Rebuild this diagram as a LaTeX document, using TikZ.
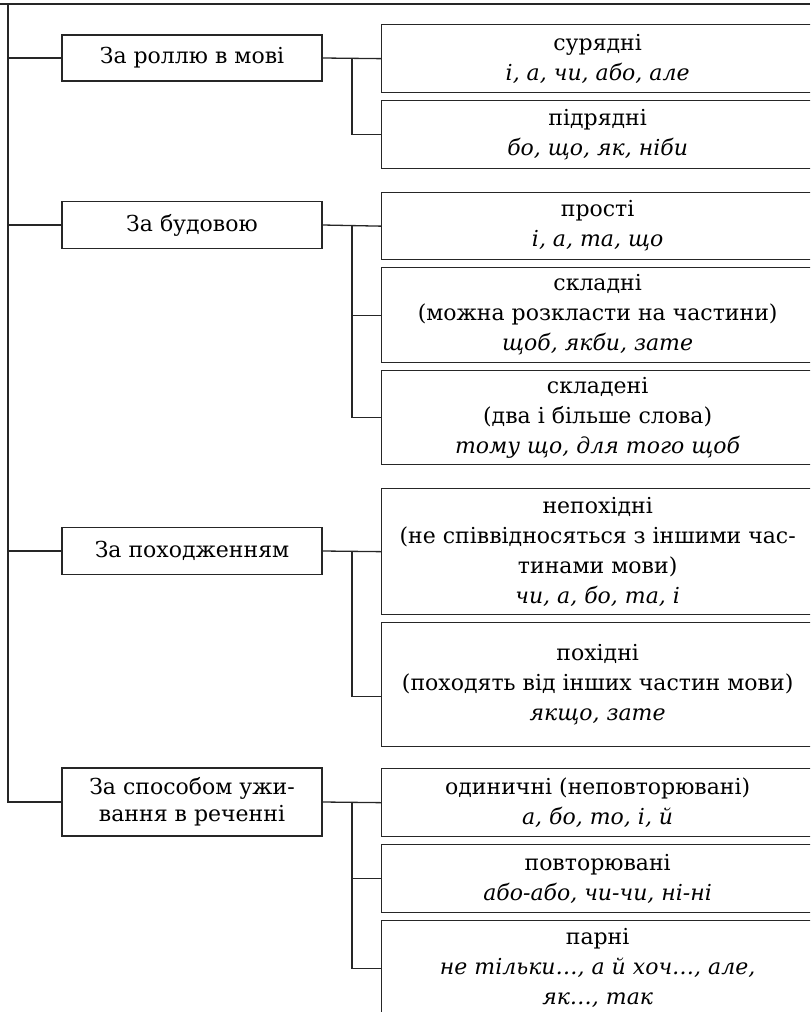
\documentclass[tikz,border=0pt]{standalone}
\usepackage{fontspec}
\setmainfont{DejaVu Serif}
\usetikzlibrary{calc}

\tikzset{
  link/.style={draw=black!85, line width=0.65pt},
  group/.style={link, fill=white, minimum width=130pt, inner sep=2pt,
                align=center, font=\fontsize{11}{13.5}\selectfont},
  kind/.style={link, fill=white, anchor=north west, minimum width=216pt,
               inner sep=2pt, align=center, font=\fontsize{11}{15}\selectfont}
}

\begin{document}
\begin{tikzpicture}[x=0.5pt,y=-0.5pt]
    \useasboundingbox (0,0) rectangle (810,1012);
    \clip (0,0) rectangle (810,1012);

    % left column
    \node[group, minimum height=23pt]   (g1) at (192,58)  {За роллю в мові};
    \node[group, minimum height=23.5pt] (g2) at (192,225) {За будовою};
    \node[group, minimum height=23.5pt] (g3) at (192,551) {За походженням};
    \node[group, minimum height=34pt]   (g4) at (192,802) {За способом ужи-\\вання в реченні};

    % right column
    \node[kind, minimum height=34pt]   (c11) at (381,24)  {сурядні\\\textit{і, а, чи, або, але}};
    \node[kind, minimum height=34pt]   (c12) at (381,100) {підрядні\\\textit{бо, що, як, ніби}};
    \node[kind, minimum height=33.5pt] (c21) at (381,192) {прості\\\textit{і, а, та, що}};
    \node[kind, minimum height=47.5pt] (c22) at (381,267) {складні\\(можна розкласти на частини)\\\textit{щоб, якби, зате}};
    \node[kind, minimum height=47pt]   (c23) at (381,370) {складені\\(два і більше слова)\\\textit{тому що, для того щоб}};
    \node[kind, minimum height=63pt]   (c31) at (381,488) {непохідні\\(не співвідносяться з іншими час-\\тинами мови)\\\textit{чи, а, бо, та, і}};
    \node[kind, minimum height=62pt]   (c32) at (381,622) {похідні\\(походять від інших частин мови)\\\textit{якщо, зате}};
    \node[kind, minimum height=34pt]   (c41) at (381,768) {одиничні (неповторювані)\\\textit{а, бо, то, і, й}};
    \node[kind, minimum height=34pt]   (c42) at (381,844) {повторювані\\\textit{або-або, чи-чи, ні-ні}};
    \node[kind, minimum height=47.5pt] (c43) at (381,920) {парні\\\textit{не тільки…, а й хоч…, але,}\\\textit{як…, так}};

    % trunk
    \coordinate (tl) at (0,4);
    \coordinate (tr) at (810,4);
    \coordinate (trunk) at (8,4);
    \coordinate (j) at (352,0);
    \draw[link] (tl) -- (tr);
    \draw[link] (trunk) |- (g4.west);
    \foreach \g in {g1,g2,g3}
        \draw[link] (\g.west) -- (\g.west -| trunk);

    % branches
    \draw[link] (g1.east) -- (c11.west);
    \draw[link] (g1.east -| j) |- (c12.west);
    \draw[link] (g2.east) -- (c21.west);
    \draw[link] (g2.east -| j) |- (c22.west);
    \draw[link] (g2.east -| j) |- (c23.west);
    \draw[link] (g3.east) -- (c31.west);
    \draw[link] (g3.east -| j) |- ([yshift=-6pt]c32.west);
    \draw[link] (g4.east) -- (c41.west);
    \draw[link] (g4.east -| j) |- (c42.west);
    \draw[link] (g4.east -| j) |- (c43.west);
\end{tikzpicture}
\end{document}
